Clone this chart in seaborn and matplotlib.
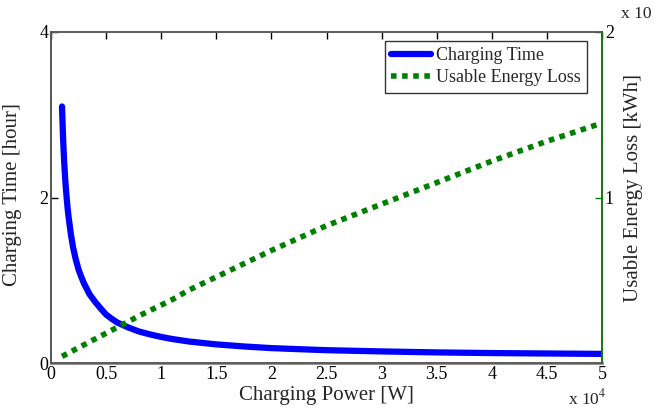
import matplotlib
matplotlib.use("Agg")
import matplotlib.pyplot as plt
import seaborn as sns
import pandas as pd
from matplotlib.lines import Line2D

# Data
power_w = [1000, 1100, 1200, 1300, 1400, 1500, 1600, 1800, 2000, 2250, 2500, 2750,
           3000, 3500, 4000, 4500, 5000, 5500, 6000, 7000, 8000, 9000, 10000,
           11000, 12500, 15000, 17500, 20000, 22500, 25000, 30000, 35000, 40000,
           45000, 50000]
charging_time_h = [3.10, 2.70, 2.42, 2.20, 2.03, 1.88, 1.76, 1.56, 1.40, 1.25,
                   1.13, 1.04, 0.96, 0.83, 0.74, 0.66, 0.585, 0.535, 0.49, 0.43,
                   0.38, 0.345, 0.315, 0.29, 0.26, 0.225, 0.20, 0.18, 0.167,
                   0.155, 0.14, 0.128, 0.12, 0.115, 0.11]
energy_loss = [0.04, 0.0435, 0.047, 0.0505, 0.054, 0.0575, 0.061, 0.068, 0.075,
               0.084, 0.093, 0.101, 0.11, 0.128, 0.145, 0.163, 0.18, 0.198, 0.215,
               0.25, 0.285, 0.318, 0.35, 0.383, 0.44, 0.52, 0.60, 0.68, 0.755,
               0.83, 0.96, 1.09, 1.22, 1.34, 1.45]

x_ticks = [0, 5000, 10000, 15000, 20000, 25000, 30000, 35000, 40000, 45000, 50000]
x_tick_labels = ["0", "0.5", "1", "1.5", "2", "2.5", "3", "3.5", "4", "4.5", "5"]
left_ticks = [0, 2, 4]
right_ticks = [1, 2]
series_names = ["Charging Time", "Usable Energy Loss"]

sns.set_theme(style="white")
plt.rcParams["font.family"] = ["Liberation Serif", "DejaVu Serif"]
plt.rcParams["mathtext.fontset"] = "stix"

df = pd.DataFrame({"power": power_w, "time": charging_time_h, "loss": energy_loss})

fig = plt.figure(figsize=(6.66, 4.09), dpi=100)
ax = fig.add_axes([51 / 666, 1 - 363 / 409, (602 - 51) / 666, (363 - 32) / 409])
ax2 = ax.twinx()

blue = (0, 0, 1)
green = (0, 0.5, 0)

sns.lineplot(data=df, x="power", y="time", ax=ax, color=blue, linewidth=4.5,
             legend=False)
sns.lineplot(data=df, x="power", y="loss", ax=ax2, color=green, linewidth=4,
             linestyle=(0, (1, 1)), legend=False)

ax.set_xlim(0, 50000)
ax.set_ylim(0, 4)
ax2.set_ylim(0, 2)
ax.set_xticks(x_ticks)
ax.set_xticklabels(x_tick_labels)
ax.set_yticks(left_ticks)
ax.set_yticklabels([str(t) for t in left_ticks])
ax2.set_yticks(right_ticks)
ax2.set_yticklabels([str(t) for t in right_ticks])

for a in (ax, ax2):
    a.tick_params(direction="in", length=5, width=1, labelsize=13, pad=2,
                  colors="black")
    for s in a.spines.values():
        s.set_color("#555555")
        s.set_linewidth(1.2)
ax.tick_params(axis="x", top=True)
ax2.spines["right"].set_color(green)
ax2.tick_params(axis="y", colors=green, labelcolor="black")
ax.spines["bottom"].set_color("#888888")
ax.spines["bottom"].set_linewidth(2)
ax.spines["top"].set_color("#888888")

ax.set_xlabel("Charging Power [W]", fontsize=15, labelpad=2)
ax.set_ylabel("Charging Time [hour]", fontsize=15)
ax2.set_ylabel("Usable Energy Loss [kWh]", fontsize=15)
ax.yaxis.set_label_coords(-0.052, 0.51)
ax2.yaxis.set_label_coords(1.04, 0.53)

fig.text(568 / 666, 1 - 408 / 409, r"x 10$^{4}$", fontsize=12.5, ha="left", va="bottom")
fig.text(621 / 666, 1 - 22 / 409, "x 10", fontsize=12.5, ha="left", va="bottom")

handles = [Line2D([], [], color=blue, linewidth=4.5),
           Line2D([], [], color=green, linewidth=4, linestyle=(0, (1, 1)))]
leg = ax2.legend(handles, series_names, loc="upper right",
                 bbox_to_anchor=(0.98, 0.985), fontsize=13, frameon=True,
                 fancybox=False, edgecolor="black", handlelength=2.2,
                 handletextpad=0.3, borderpad=0.35, labelspacing=0.3,
                 borderaxespad=0.2)
leg.get_frame().set_linewidth(1.0)

fig.savefig("out.png", dpi=100)
